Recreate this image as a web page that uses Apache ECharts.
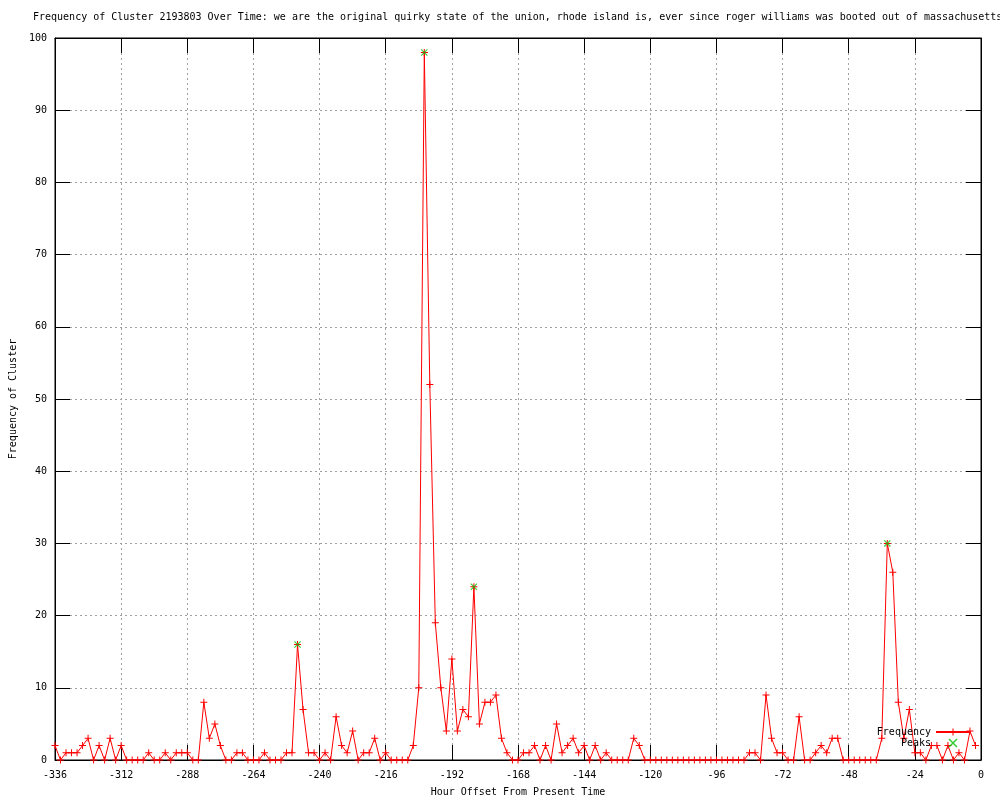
<!DOCTYPE html>
<html>
<head>
<meta charset="utf-8">
<script src="https://cdn.jsdelivr.net/npm/echarts@6/dist/echarts.min.js"></script>
<style>
html,body{margin:0;padding:0;background:#fff;}
#chart{width:1000px;height:800px;}
</style>
</head>
<body>
<div id="chart"></div>
<script>
const titleText = 'Frequency of Cluster 2193803 Over Time: we are the original quirky state of the union, rhode island is, ever since roger williams was booted out of massachusetts';
const xName = 'Hour Offset From Present Time';
const yName = 'Frequency of Cluster';

const hours = [-336,-334,-332,-330,-328,-326,-324,-322,-320,-318,
-316,-314,-312,-310,-308,-306,-304,-302,-300,-298,
-296,-294,-292,-290,-288,-286,-284,-282,-280,-278,
-276,-274,-272,-270,-268,-266,-264,-262,-260,-258,
-256,-254,-252,-250,-248,-246,-244,-242,-240,-238,
-236,-234,-232,-230,-228,-226,-224,-222,-220,-218,
-216,-214,-212,-210,-208,-206,-204,-202,-200,-198,
-196,-194,-192,-190,-188,-186,-184,-182,-180,-178,
-176,-174,-172,-170,-168,-166,-164,-162,-160,-158,
-156,-154,-152,-150,-148,-146,-144,-142,-140,-138,
-136,-134,-132,-130,-128,-126,-124,-122,-120,-118,
-116,-114,-112,-110,-108,-106,-104,-102,-100,-98,
-96,-94,-92,-90,-88,-86,-84,-82,-80,-78,
-76,-74,-72,-70,-68,-66,-64,-62,-60,-58,
-56,-54,-52,-50,-48,-46,-44,-42,-40,-38,
-36,-34,-32,-30,-28,-26,-24,-22,-20,-18,
-16,-14,-12,-10,-8,-6,-4,-2];

const frequency = [2,0,1,1,1,2,3,0,2,0,
3,0,2,0,0,0,0,1,0,0,
1,0,1,1,1,0,0,8,3,5,
2,0,0,1,1,0,0,0,1,0,
0,0,1,1,16,7,1,1,0,1,
0,6,2,1,4,0,1,1,3,0,
1,0,0,0,0,2,10,98,52,19,
10,4,14,4,7,6,24,5,8,8,
9,3,1,0,0,1,1,2,0,2,
0,5,1,2,3,1,2,0,2,0,
1,0,0,0,0,3,2,0,0,0,
0,0,0,0,0,0,0,0,0,0,
0,0,0,0,0,0,1,1,0,9,
3,1,1,0,0,6,0,0,1,2,
1,3,3,0,0,0,0,0,0,0,
3,30,26,8,3,7,1,1,0,2,
2,0,2,0,1,0,4,2];

const peakHours = [-248,-202,-184,-34];
const peakValues = [16,98,24,30];

const FONT = 'DejaVu Sans Mono';
const plusPath = 'path://M3,0H4V3H7V4H4V7H3V4H0V3H3Z';
const crossPath = 'path://M0,0.8L0.8,0L7,6.2L6.2,7Z M6.2,0L7,0.8L0.8,7L0,6.2Z';

const chart = echarts.init(document.getElementById('chart'), null, {renderer: 'canvas'});

const gridLine = {show: true, lineStyle: {color: '#a0a0a0', type: [2, 3], width: 1}};
const tickIn = {show: true, inside: true, length: 15, lineStyle: {color: '#000', width: 1}};
const axLine = {show: true, onZero: false, lineStyle: {color: '#000', width: 1}};
const lab = {color: '#000', fontFamily: FONT, fontSize: 10};

chart.setOption({
  animation: false,
  backgroundColor: '#fff',
  title: {
    text: titleText,
    left: 33, top: 12, padding: 0,
    textStyle: {fontFamily: FONT, fontSize: 10, fontWeight: 'normal', color: '#000'}
  },
  grid: {left: 55, right: 19, top: 38, bottom: 40, show: true, borderColor: '#000', borderWidth: 1,
         backgroundColor: 'transparent', containLabel: false, outerBoundsMode: 'none'},
  legend: {
    orient: 'vertical', right: 29, top: 727, padding: 0, align: 'right',
    itemWidth: 34, itemHeight: 9, itemGap: 1,
    textStyle: {fontFamily: FONT, fontSize: 10, color: '#000'},
    data: [{name: 'Frequency'}, {name: 'Peaks'}]
  },
  xAxis: [
    {
      type: 'value', min: -336, max: 0, interval: 24, position: 'bottom',
      axisLine: axLine, axisTick: tickIn, splitLine: gridLine,
      axisLabel: Object.assign({margin: 10}, lab),
      name: xName, nameLocation: 'middle', nameGap: 27,
      nameTextStyle: {fontFamily: FONT, fontSize: 10, color: '#000'}
    },
    {
      type: 'value', min: -336, max: 0, interval: 24, position: 'top',
      axisLine: axLine, axisTick: tickIn, splitLine: {show: false}, axisLabel: {show: false}
    }
  ],
  yAxis: [
    {
      type: 'value', min: 0, max: 100, interval: 10, position: 'left',
      axisLine: axLine, axisTick: tickIn, splitLine: gridLine,
      axisLabel: Object.assign({margin: 8}, lab),
      name: yName, nameLocation: 'middle', nameGap: 37,
      nameTextStyle: {fontFamily: FONT, fontSize: 10, color: '#000'}
    },
    {
      type: 'value', min: 0, max: 100, interval: 10, position: 'right',
      axisLine: axLine, axisTick: tickIn, splitLine: {show: false}, axisLabel: {show: false}
    }
  ],
  series: [
    {
      name: 'Frequency', type: 'line',
      data: hours.map((h, i) => [h, frequency[i]]),
      symbol: plusPath, symbolSize: 7, showSymbol: true, showAllSymbol: true,
      lineStyle: {color: '#ff0000', width: 1},
      itemStyle: {color: '#ff0000'},
      clip: false, z: 3, silent: true,
      emphasis: {disabled: true}
    },
    {
      name: 'Peaks', type: 'scatter',
      data: peakHours.map((h, i) => [h, peakValues[i]]),
      symbol: crossPath, symbolSize: 7,
      itemStyle: {color: '#00c000'},
      clip: false, z: 4, silent: true,
      emphasis: {disabled: true}
    }
  ]
});
</script>
</body>
</html>
